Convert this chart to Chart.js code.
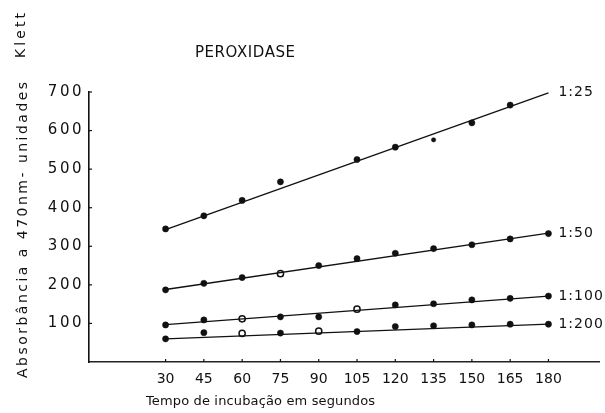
<!DOCTYPE html>
<html><head><meta charset="utf-8">
<script src="https://cdn.jsdelivr.net/npm/chart.js@4.4.1/dist/chart.umd.min.js"></script>
<style>html,body{margin:0;padding:0;background:#fff}#wrap{width:605px;height:413px}</style>
</head><body><div id="wrap"><canvas id="c" width="605" height="413"></canvas></div>
<script>
// ---- data ----
const times = [30, 45, 60, 75, 90, 105, 120, 135, 150, 165, 180];
const xTicks = [30, 45, 60, 75, 90, 105, 120, 135, 150, 165, 180];
const yTicks = [100, 200, 300, 400, 500, 600, 700];
const seriesNames = ['1:25', '1:50', '1:100', '1:200'];
const v25  = [345, 379, 419, 467, null, 525, 557, 576, 620, 666, null];
const v50  = [187, 204, 219, 229, 250, 268, 282, 294, 304, 319, 333];
const v100 = [96, 109, 112, 117, 117, 137, 148, 151, 161, 165, 171];
const v200 = [60, 76, 74, 75, 80, 79, 92, 94, 96, 98, 98];
// open (hollow) markers, by time
const open25 = [];
const open50 = [75];
const open100 = [60, 105];
const open200 = [60, 90];
// fitted straight lines: values at the two end times
const fitX = [30, 180];
const fit25 = [343, 698];
const fit50 = [188, 334];
const fit100 = [97, 171];
const fit200 = [60, 98];
const titleText = 'PEROXIDASE';
const yTitleMain = 'Absorbância a 470nm- unidades';
const yTitleUnit = 'Klett';
const xTitleText = 'Tempo de incubação em segundos';

// ---- build ----
const seriesVals = [v25, v50, v100, v200];
const fits = [fit25, fit50, fit100, fit200];
const opens = [open25, open50, open100, open200];
const INK = '#111';

const datasets = [];
seriesNames.forEach((name, i) => {
  datasets.push({
    type: 'line', label: name + ' reta',
    data: fitX.map((t, k) => ({x: t, y: fits[i][k]})),
    borderColor: INK, borderWidth: 1.3, pointRadius: 0, fill: false, tension: 0
  });
  const isOpen = c => c.raw && opens[i].includes(c.raw.x);
  datasets.push({
    type: 'scatter', label: name,
    data: times.map((t, k) => seriesVals[i][k] == null ? null : {x: t, y: seriesVals[i][k]}).filter(p => p),
    showLine: false,
    pointRadius: c => (i === 0 && c.raw && c.raw.x === 135) ? 2.2 : 3.1,
    pointBackgroundColor: c => isOpen(c) ? '#fff' : INK,
    pointBorderColor: INK,
    pointBorderWidth: c => isOpen(c) ? 1.5 : 0.5
  });
});

function spaced(ctx, text, x, y, width) {
  ctx.letterSpacing = '0px';
  const w = ctx.measureText(text).width;
  const n = Array.from(text).length;
  const sp = n > 1 ? (width - w) / (n - 1) : 0;
  ctx.letterSpacing = sp.toFixed(2) + 'px';
  ctx.textAlign = 'left';
  ctx.fillText(text, x, y);
  ctx.letterSpacing = '0px';
}

const deco = {
  id: 'deco',
  afterLayout(chart) {
    const ys = chart.scales.y;
    if (!ys.__patched) {
      const orig = ys.drawLabels;
      ys.drawLabels = function (a) {
        this.ctx.save();
        this.ctx.letterSpacing = '2.5px';
        orig.call(this, a);
        this.ctx.restore();
      };
      ys.__patched = true;
    }
  },
  afterDraw(chart) {
    const ctx = chart.ctx, xs = chart.scales.x, ys = chart.scales.y;
    const a = chart.chartArea;
    ctx.save();
    ctx.strokeStyle = INK; ctx.lineWidth = 1.2;
    // inward tick marks
    yTicks.forEach(v => {
      const py = ys.getPixelForValue(v);
      ctx.beginPath(); ctx.moveTo(a.left, py); ctx.lineTo(a.left + 3, py); ctx.stroke();
    });
    xTicks.forEach(v => {
      const px = xs.getPixelForValue(v);
      ctx.beginPath(); ctx.moveTo(px, a.bottom); ctx.lineTo(px, a.bottom - 3); ctx.stroke();
    });
    ctx.fillStyle = INK;
    ctx.textBaseline = 'middle';
    // series labels at the end of each line
    ctx.font = '14px "DejaVu Sans"';
    seriesNames.forEach((name, i) => {
      const px = xs.getPixelForValue(fitX[1]) + 10;
      const py = ys.getPixelForValue(fits[i][1]);
      ctx.letterSpacing = '1px';
      ctx.textAlign = 'left';
      ctx.fillText(name, px, py);
    });
    ctx.letterSpacing = '0px';
    ctx.textBaseline = 'alphabetic';
    // title
    ctx.font = '15px "DejaVu Sans"';
    spaced(ctx, titleText, 195, 57, 100);
    // x title
    ctx.font = '13px "DejaVu Sans"';
    spaced(ctx, xTitleText, 146, 405, 229);
    // y title (rotated)
    ctx.save();
    ctx.translate(27, 378);
    ctx.rotate(-Math.PI / 2);
    ctx.font = '14px "DejaVu Sans"';
    spaced(ctx, yTitleMain, 0, 0, 296);
    ctx.restore();
    ctx.save();
    ctx.translate(25, 58);
    ctx.rotate(-Math.PI / 2);
    ctx.font = '14px "DejaVu Sans"';
    spaced(ctx, yTitleUnit, 0, 0, 45);
    ctx.restore();
    ctx.restore();
  }
};

new Chart(document.getElementById('c'), {
  type: 'scatter',
  data: {datasets},
  options: {
    responsive: false, animation: false, events: [],
    layout: {padding: {top: 92, left: 0, right: 1, bottom: 0}},
    plugins: {legend: {display: false}, tooltip: {enabled: false}, title: {display: false}},
    scales: {
      x: {
        type: 'linear', min: 0, max: 200,
        afterBuildTicks: s => { s.ticks = xTicks.map(v => ({value: v})); },
        afterFit: s => { s.height = 51; },
        grid: {display: false, drawTicks: false},
        border: {color: '#222', width: 1.5, dash: [4, 1]},
        ticks: {padding: 9, color: INK, font: {family: 'DejaVu Sans', size: 14}, maxRotation: 0, autoSkip: false}
      },
      y: {
        type: 'linear', min: 0, max: 700,
        afterBuildTicks: s => { s.ticks = yTicks.map(v => ({value: v})); },
        afterFit: s => { s.width = 89; },
        grid: {display: false, drawTicks: false},
        border: {color: INK, width: 1.6},
        ticks: {padding: 5, color: INK, font: {family: 'DejaVu Sans', size: 15}}
      }
    }
  },
  plugins: [deco]
});
</script>
</body></html>
